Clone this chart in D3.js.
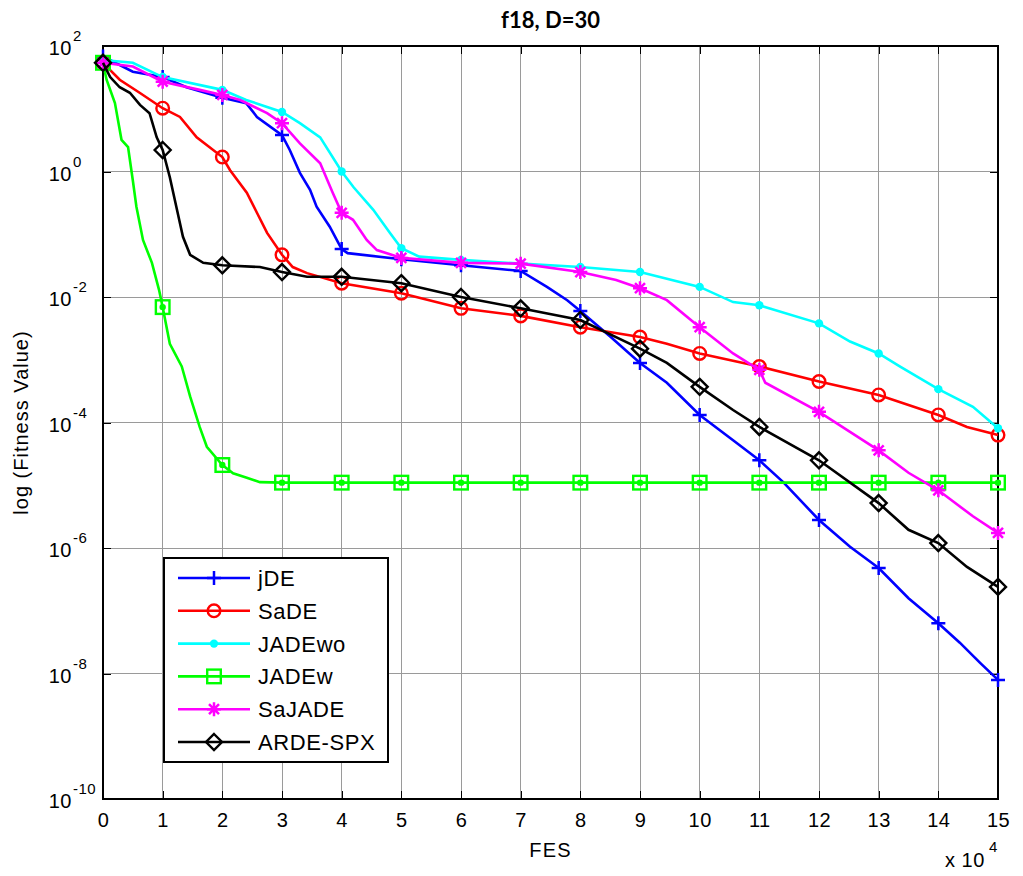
<!DOCTYPE html>
<html>
<head>
<meta charset="utf-8">
<script src="https://cdn.jsdelivr.net/npm/d3@7"></script>
<style>
  body { margin: 0; background: #fff; }
  svg { display: block; }
  text { font-family: "Liberation Sans", Arial, sans-serif; fill: #000; }
</style>
</head>
<body>
<svg id="chart" width="1023" height="876"></svg>
<script>
// ---------------- DATA ----------------
// FES in units of 1e4 (axis shows "x 10^4")
const fesTicks = [0,1,2,3,4,5,6,7,8,9,10,11,12,13,14,15];
const logTickExps = [-10,-8,-6,-4,-2,0,2];
const seriesNames = ["jDE","SaDE","JADEwo","JADEw","SaJADE","ARDE-SPX"];
const seriesColors = ["#0000ff","#ff0000","#00ffff","#00ff00","#ff00ff","#000000"];
const seriesMarkers = ["plus","circle","dot","square","star","diamond"];

const jDE_fes = [0,0.5,1,1.4,2,2.4,2.58,3,3.13,3.3,3.47,3.58,3.8,4,4.1,5,6,7,7.44,7.78,8,8.5,9,9.45,10,10.56,11,11.4,12,12.52,13,13.5,14,14.36,14.7,15];
const jDE_val = [68,39,32,22,15,12.3,7.4,3.8,2.2,0.95,0.51,0.275,0.132,0.058,0.05,0.040,0.032,0.026,0.0145,0.0089,0.0060,0.00234,8.9e-4,4.3e-4,1.32e-4,5.2e-5,2.5e-5,1.12e-5,2.8e-6,1.05e-6,4.8e-7,1.58e-7,6.3e-8,3.1e-8,1.48e-8,7.9e-9];

const SaDE_fes = [0,0.28,0.62,1,1.29,1.57,2,2.13,2.41,2.58,2.75,3,3.18,3.42,4,5,6,7,8,9,9.45,10,11,12,13,14,14.48,15];
const SaDE_val = [54,29,17.8,10.2,7.4,3.5,1.7,1.05,0.46,0.22,0.105,0.047,0.030,0.024,0.0166,0.0115,0.0066,0.0050,0.0033,0.0023,0.0018,0.00126,7.8e-4,4.5e-4,2.75e-4,1.32e-4,8.5e-5,6.3e-5];

const JADEwo_fes = [0,0.5,1,2,2.4,3,3.3,3.64,4,4.2,4.53,4.81,5,5.3,6,7,8,9,10,10.56,11,12,12.52,13,13.36,14,14.58,15];
const JADEwo_val = [60,54,32,20,13.8,8.9,5.9,3.5,1.0,0.56,0.245,0.105,0.060,0.044,0.039,0.034,0.030,0.025,0.0145,0.0083,0.0074,0.0038,0.00195,0.00126,7.8e-4,3.4e-4,1.78e-4,8.1e-5];

const JADEw_fes = [0,0.06,0.2,0.31,0.42,0.5,0.56,0.67,0.82,0.94,1,1.12,1.32,1.46,1.62,1.74,2,2.18,2.41,2.63,3,4,5,6,7,8,9,10,11,12,13,14,15];
const JADEw_val = [54,29,12.3,3.2,2.45,0.72,0.275,0.081,0.035,0.0129,0.0069,0.0018,7.8e-4,2.6e-4,8.5e-5,4.1e-5,2.1e-5,1.55e-5,1.32e-5,1.12e-5,1.1e-5,1.1e-5,1.1e-5,1.1e-5,1.1e-5,1.1e-5,1.1e-5,1.1e-5,1.1e-5,1.1e-5,1.1e-5,1.1e-5,1.1e-5];

const SaJADE_fes = [0,0.5,1,1.62,2,2.3,2.75,3,3.3,3.64,3.85,4,4.19,4.42,4.59,5,6,7,8,8.6,9,9.45,10,10.56,11,11.1,12,13,13.5,14,14.58,15];
const SaJADE_val = [54,47,27,20,16.6,13.8,8.5,5.9,2.8,1.35,0.46,0.22,0.17,0.081,0.056,0.042,0.035,0.034,0.025,0.0186,0.0138,0.0089,0.0033,0.00126,6.9e-4,4.3e-4,1.48e-4,3.6e-5,1.58e-5,8.3e-6,3.2e-6,1.74e-6];

const ARDESPX_fes = [0,0.12,0.28,0.45,0.62,0.78,0.9,1,1.12,1.24,1.34,1.46,1.68,2,2.63,3,3.42,4,5,6,7,8,9,9.45,10,10.56,11,12,13,13.5,14,14.48,15];
const ARDESPX_val = [54,32,22,18,11.5,8.5,3.5,2.2,0.81,0.245,0.091,0.047,0.035,0.032,0.030,0.025,0.021,0.021,0.0166,0.0100,0.0066,0.0043,0.0015,8.9e-4,3.7e-4,1.58e-4,8.5e-5,2.5e-5,5.2e-6,1.95e-6,1.2e-6,5.0e-7,2.4e-7];

const seriesFes = [jDE_fes, SaDE_fes, JADEwo_fes, JADEw_fes, SaJADE_fes, ARDESPX_fes];
const seriesVal = [jDE_val, SaDE_val, JADEwo_val, JADEw_val, SaJADE_val, ARDESPX_val];

// ---------------- CHART ----------------
const svg = d3.select("#chart");
const M = { left: 103, right: 998, top: 46, bottom: 799 };
const x = d3.scaleLinear().domain([0, 15]).range([M.left, M.right]);
const y = d3.scaleLog().domain([1e-10, 1e2]).range([M.bottom, M.top]);
const logTicks = logTickExps.map(e => Math.pow(10, e));

// grid
const grid = svg.append("g").attr("stroke", "#9a9a9a").attr("stroke-width", 1).attr("shape-rendering", "crispEdges");
grid.selectAll("line.gv").data(fesTicks).join("line").attr("class", "gv")
  .attr("x1", d => x(d)).attr("x2", d => x(d)).attr("y1", M.top).attr("y2", M.bottom);
grid.selectAll("line.gh").data(logTicks).join("line").attr("class", "gh")
  .attr("x1", M.left).attr("x2", M.right).attr("y1", d => y(d)).attr("y2", d => y(d));

// axes ticks (inward)
function styleAxis(g) {
  g.select(".domain").remove();
  g.selectAll(".tick line").attr("stroke", "#000").attr("stroke-width", 1).attr("shape-rendering", "crispEdges");
}
svg.append("g").attr("transform", `translate(0,${M.bottom})`)
  .call(d3.axisBottom(x).tickValues(fesTicks).tickSizeInner(-8).tickSizeOuter(0).tickPadding(14).tickFormat(d3.format("d")))
  .call(styleAxis)
  .call(g => g.selectAll(".tick text").attr("font-size", 20).attr("font-family", "Liberation Sans, Arial, sans-serif").attr("fill", "#000").style("letter-spacing", "0.5px"));
svg.append("g").attr("transform", `translate(0,${M.top})`)
  .call(d3.axisTop(x).tickValues(fesTicks).tickSizeInner(-8).tickSizeOuter(0).tickFormat(""))
  .call(styleAxis);
svg.append("g").attr("transform", `translate(${M.left},0)`)
  .call(d3.axisLeft(y).tickValues(logTicks).tickSizeInner(-8).tickSizeOuter(0).tickFormat(""))
  .call(styleAxis);
svg.append("g").attr("transform", `translate(${M.right},0)`)
  .call(d3.axisRight(y).tickValues(logTicks).tickSizeInner(-8).tickSizeOuter(0).tickFormat(""))
  .call(styleAxis);

// y tick labels 10^e
const yl = svg.append("g");
yl.selectAll("text.base").data(logTickExps).join("text").attr("class", "base")
  .attr("x", 72).attr("y", e => y(Math.pow(10, e)) + 9)
  .attr("text-anchor", "end").attr("font-size", 20).style("letter-spacing", "0.5px").text("10");
yl.selectAll("text.exp").data(logTickExps).join("text").attr("class", "exp")
  .attr("x", 73).attr("y", e => y(Math.pow(10, e)) - 5)
  .attr("text-anchor", "start").attr("font-size", 15).style("letter-spacing", "0.5px").text(e => String(e));

// box
svg.append("rect").attr("x", M.left).attr("y", M.top).attr("width", M.right - M.left).attr("height", M.bottom - M.top)
  .attr("fill", "none").attr("stroke", "#000").attr("stroke-width", 1.2).attr("shape-rendering", "crispEdges");

// marker drawing
function drawMarker(g, type, color, inLegend) {
  if (type === "plus") {
    g.append("path").attr("d", "M-7,0H7M0,-7V7").attr("stroke", color).attr("stroke-width", 2.5).attr("fill", "none");
  } else if (type === "circle") {
    g.append("circle").attr("r", 6.3).attr("fill", "none").attr("stroke", color).attr("stroke-width", 2.4);
  } else if (type === "dot") {
    g.append("circle").attr("r", 4.2).attr("fill", color);
  } else if (type === "square") {
    g.append("rect").attr("x", -6.8).attr("y", -6.8).attr("width", 13.6).attr("height", 13.6)
      .attr("fill", "none").attr("stroke", color).attr("stroke-width", 2.4);
    if (!inLegend) g.append("circle").attr("r", 3.2).attr("fill", color);
  } else if (type === "star") {
    g.append("path").attr("d", "M-7,0H7M0,-7V7M-5,-5L5,5M-5,5L5,-5").attr("stroke", color).attr("stroke-width", 2.5).attr("fill", "none");
  } else if (type === "diamond") {
    g.append("path").attr("d", "M0,-8L8,0L0,8L-8,0Z").attr("stroke", color).attr("stroke-width", 2.4).attr("fill", "none");
  }
}

// series
const line = d3.line().x(d => x(d.fes)).y(d => y(d.val)).curve(d3.curveLinear);
const plotG = svg.append("g");
seriesNames.forEach((name, i) => {
  const pts = seriesFes[i].map((f, j) => ({ fes: f, val: seriesVal[i][j] }));
  const g = plotG.append("g");
  g.append("path").datum(pts).attr("d", line)
    .attr("fill", "none").attr("stroke", seriesColors[i]).attr("stroke-width", 2.6)
    .attr("stroke-linejoin", "miter").attr("stroke-linecap", "butt");
  const mk = pts.filter(p => Number.isInteger(p.fes));
  g.selectAll("g.mk").data(mk).join("g").attr("class", "mk")
    .attr("transform", d => `translate(${x(d.fes)},${y(d.val)})`)
    .each(function () { drawMarker(d3.select(this), seriesMarkers[i], seriesColors[i], false); });
});

// title and axis labels
svg.append("text").attr("x", (M.left + M.right) / 2).attr("y", 28).attr("text-anchor", "middle")
  .style("font-family", "Lato, 'Open Sans', sans-serif")
  .attr("font-weight", "bold").attr("font-size", 22).text("f18, D=30");
svg.append("text").attr("x", (M.left + M.right) / 2).attr("y", 857).attr("text-anchor", "middle")
  .attr("font-size", 20).style("letter-spacing", "1.2px").text("FES");
svg.append("text").attr("transform", `translate(28,${(M.top + M.bottom) / 2}) rotate(-90)`).attr("text-anchor", "middle")
  .attr("font-size", 20).style("letter-spacing", "1px").text("log (Fitness Value)");
svg.append("text").attr("x", 945).attr("y", 867).attr("font-size", 20).style("letter-spacing", "0.5px").text("x 10");
svg.append("text").attr("x", 989).attr("y", 852).attr("font-size", 15).text("4");

// legend
const L = { x: 164, y: 558, w: 224, h: 204, row0: 578, dy: 32.8 };
const lg = svg.append("g");
lg.append("rect").attr("x", L.x).attr("y", L.y).attr("width", L.w).attr("height", L.h)
  .attr("fill", "#fff").attr("stroke", "#000").attr("stroke-width", 1.2).attr("shape-rendering", "crispEdges");
const items = lg.selectAll("g.li").data(seriesNames).join("g").attr("class", "li")
  .attr("transform", (d, i) => `translate(0,${L.row0 + i * L.dy})`);
items.append("line").attr("x1", 178).attr("x2", 250).attr("y1", 0).attr("y2", 0)
  .attr("stroke", (d, i) => seriesColors[i]).attr("stroke-width", 2.6);
items.each(function (d, i) {
  const g = d3.select(this).append("g").attr("transform", "translate(214,0)");
  drawMarker(g, seriesMarkers[i], seriesColors[i], true);
});
items.append("text").attr("x", 258).attr("y", 8).attr("font-size", 22).style("letter-spacing", "0.6px").text(d => d);
</script>
</body>
</html>
